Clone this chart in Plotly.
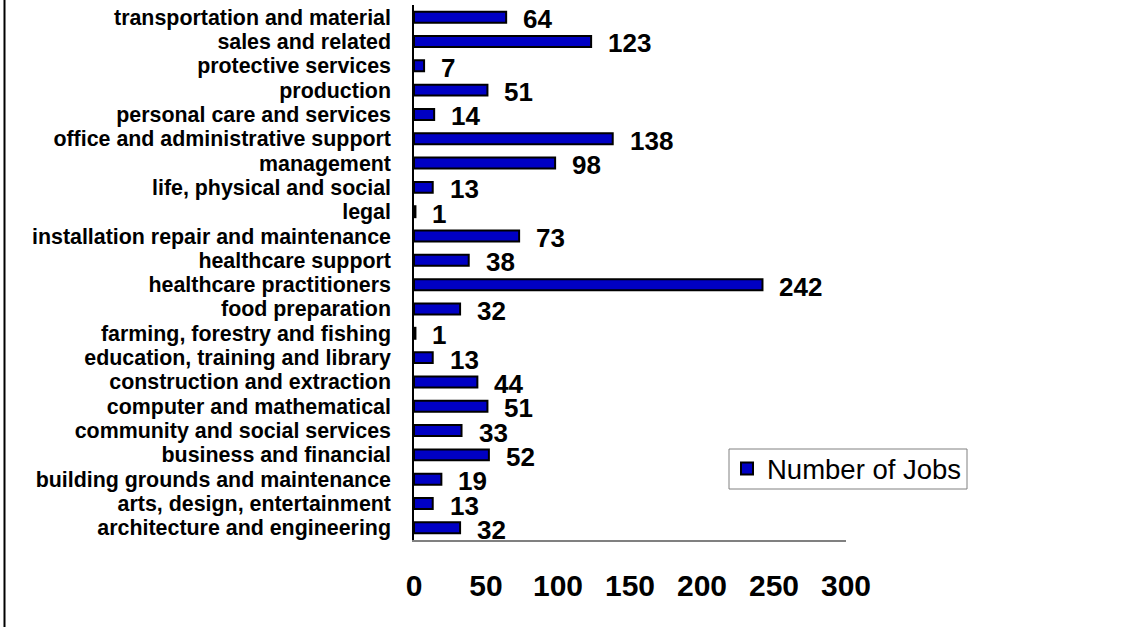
import plotly.graph_objects as go

categories = [
    "architecture and engineering",
    "arts, design, entertainment",
    "building grounds and maintenance",
    "business and financial",
    "community and social services",
    "computer and mathematical",
    "construction and extraction",
    "education, training and library",
    "farming, forestry and fishing",
    "food preparation",
    "healthcare practitioners",
    "healthcare support",
    "installation repair and maintenance",
    "legal",
    "life, physical and social",
    "management",
    "office and administrative support",
    "personal care and services",
    "production",
    "protective services",
    "sales and related",
    "transportation and material",
]
jobs = [32, 13, 19, 52, 33, 51, 44, 13, 1, 32, 242, 38, 73, 1, 13, 98, 138, 14, 51, 7, 123, 64]
x_ticks = [0, 50, 100, 150, 200, 250, 300]
series_name = "Number of Jobs"

FONT = "Liberation Sans, Arial, sans-serif"

fig = go.Figure()
fig.add_trace(go.Bar(
    y=categories,
    x=jobs,
    orientation="h",
    name=series_name,
    width=0.45,
    marker=dict(color="#0000C4", line=dict(color="black", width=2)),
    showlegend=True,
))

for c, v in zip(categories, jobs):
    fig.add_annotation(
        x=v, y=c, xref="x", yref="y",
        text=f"<b>{v}</b>", showarrow=False,
        xanchor="left", yanchor="middle",
        xshift=15, yshift=-2,
        font=dict(family=FONT, size=26, color="black"),
    )

W, H = 1137, 627
L, R, T, B = 414, 291, 5, 87
pw = W - L - R
ph = H - T - B


def px_x(v):
    return (v - L) / pw


def px_y(v):
    return (H - B - v) / ph


# left border line of the frame
fig.add_shape(type="line", xref="paper", yref="paper",
              x0=px_x(4.5), x1=px_x(4.5), y0=px_y(H), y1=px_y(0),
              line=dict(color="black", width=2))
# legend frame
fig.add_shape(type="rect", xref="paper", yref="paper",
              x0=px_x(729), x1=px_x(967), y0=px_y(489), y1=px_y(449),
              line=dict(color="#808080", width=1), fillcolor="white", layer="above")

fig.update_layout(
    width=W, height=H,
    margin=dict(l=L, r=R, t=T, b=B, pad=0),
    paper_bgcolor="white",
    plot_bgcolor="white",
    font=dict(family=FONT, color="black"),
    xaxis=dict(
        range=[0, 300],
        tickvals=x_ticks,
        ticktext=[f"<b>{t}</b>" for t in x_ticks],
        showgrid=False,
        zeroline=False,
        showline=True, linecolor="#808080", linewidth=2,
        ticks="",
        ticklabelstandoff=18,
        tickfont=dict(family=FONT, size=30, color="black"),
        fixedrange=True,
    ),
    yaxis=dict(
        categoryorder="array", categoryarray=categories,
        showgrid=False,
        zeroline=False,
        showline=True, linecolor="black", linewidth=1.5,
        ticks="",
        ticklabelstandoff=17,
        tickfont=dict(family=FONT, size=21.4, color="black"),
        tickvals=categories,
        ticktext=[f"<b>{c}</b>" for c in categories],
        range=[-0.5, len(categories) - 0.5],
        fixedrange=True,
    ),
    legend=dict(
        x=px_x(727), y=px_y(444),
        xanchor="left", yanchor="top",
        bgcolor="rgba(0,0,0,0)", borderwidth=0,
        font=dict(family=FONT, size=27.5, color="black"),
        itemwidth=30,
    ),
)

fig.write_html("out.html", config={"displayModeBar": False},
               post_script="document.body.style.margin='0';")
